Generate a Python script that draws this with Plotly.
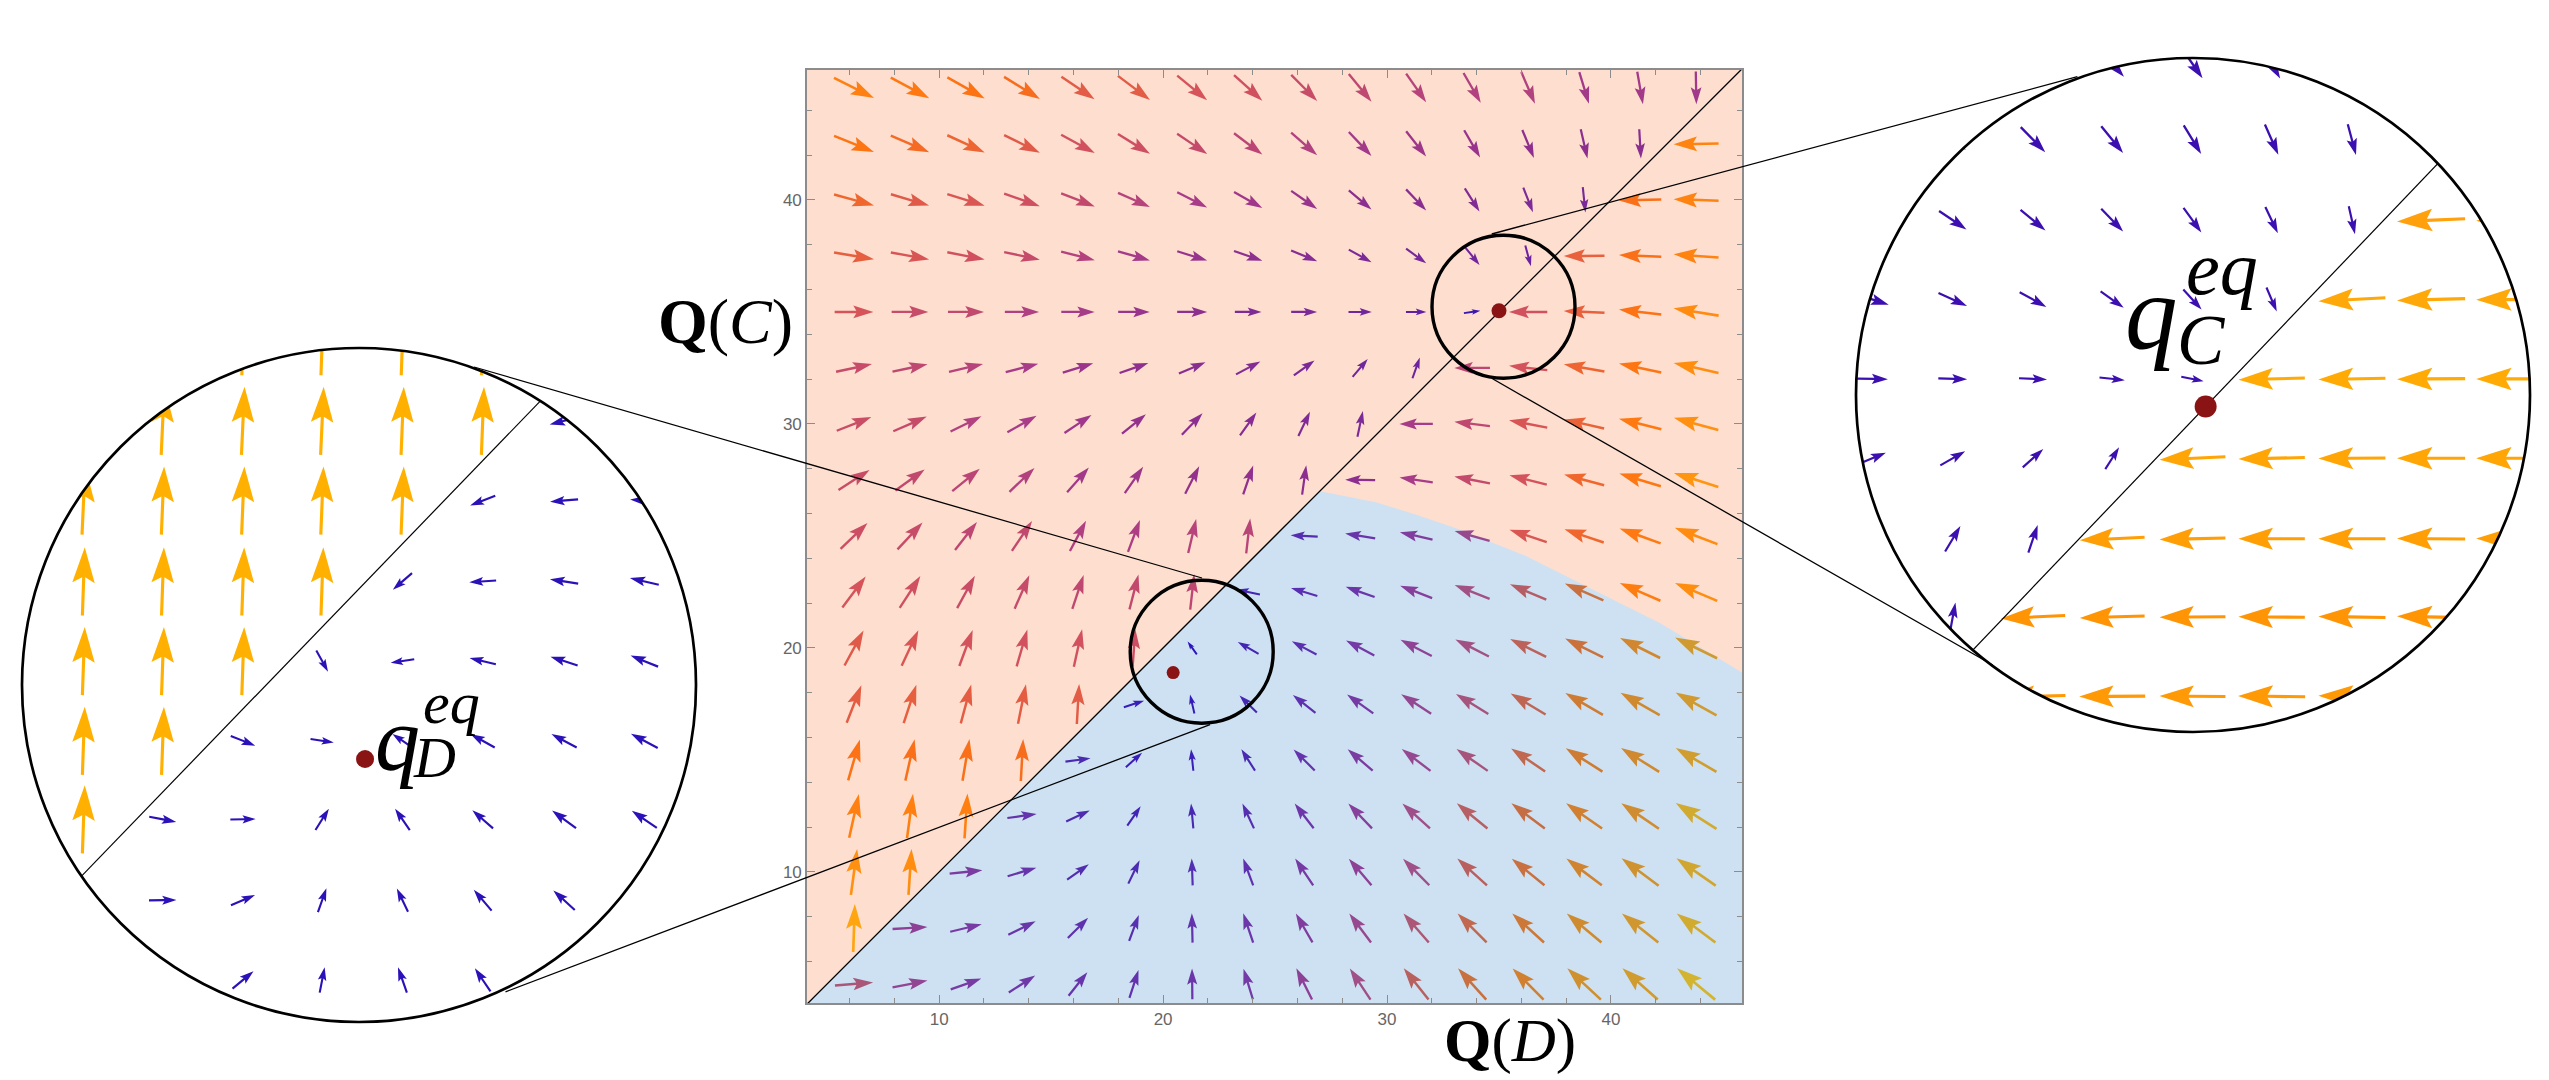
import numpy as np
import plotly.graph_objects as go

# --- Data ---
# main vector field: grid points, arrow direction (degrees) and arrow length (axis units)
main_x = [6.2, 8.7, 11.2, 13.7, 16.2, 18.7, 21.3, 23.8, 26.3, 28.8, 31.3, 33.8, 36.3, 38.8, 41.3, 43.8]
main_y = [45, 42.5, 40, 37.5, 35, 32.5, 30, 27.5, 25, 22.5, 20, 17.5, 15, 12.5, 10, 7.5, 5]
main_angle = [
    [-26.6, -28.3, -29.4, -31.7, -34.2, -36.9, -39.4, -42, -45, -50.7, -55, -60, -66.7, -73, -80, -89],
    [-21.8, -23.5, -24.9, -26.4, -28.6, -31.6, -34, -37, -41, -46.6, -51.7, -59.7, -67.4, -77, -86.7, -179],
    [-15.4, -16.5, -17.4, -19.5, -21, -24, -27, -29.5, -34.7, -40, -46.4, -57.5, -68.6, -84, -178.6, 178],
    [-9.5, -10.3, -11, -12, -14, -15.7, -17.3, -19, -22.3, -29, -36, -51, -74.7, -179.5, 177.7, 175.8],
    [0, 0, 0, 0, 0, 0, 0, 0, 0, 0, 0, 8, 180, 177.6, 173.3, 170.7],
    [12, 11.8, 13.2, 14.3, 17, 19.2, 23, 28, 36, 50, 70.5, 180, 173.5, 170, 168, 167.5],
    [21.5, 23.7, 26.3, 29.6, 33.7, 39.3, 46, 54.6, 64.4, 78, 180, 173, 169, 167.3, 166, 164.5],
    [32.8, 35.6, 39, 43.4, 48.7, 55, 63, 71, 82, 179, 172, 169, 166, 165, 163, 162.5],
    [44, 47, 52, 56, 62, 69.4, 76.8, 83.5, 177, 170.7, 167, 164.4, 161.6, 161.4, 160, 159],
    [53, 57, 61.4, 66.3, 71.6, 75.6, 83.6, 168, 163, 160.6, 158.8, 158.3, 157, 156.4, 156.5, 157],
    [61.5, 64.8, 69.7, 73.8, 77.5, 85.8, 125.5, 149.9, 152, 152, 152.6, 153, 153.4, 153.7, 153.4, 153.8],
    [68.6, 71.8, 75, 78.6, 86.7, 17.8, 103, 135.7, 142, 144.4, 146.8, 148.2, 149, 150, 150.5, 151],
    [74, 77.3, 80.5, 86.8, 7.7, 41.7, 96, 122.7, 135, 139.3, 142.8, 145, 146, 147.6, 148, 149.5],
    [77.5, 82.3, 86.2, 8, 24.9, 55.4, 95.3, 115, 127.5, 133.7, 138, 140.6, 142.9, 145, 145.8, 147.4],
    [82.2, 86.2, 6, 16.7, 35.5, 64.2, 92, 110.4, 124, 130.4, 134.6, 138, 140.8, 143, 143.4, 145],
    [88, 3.3, 13.5, 26.1, 45, 69.4, 91.4, 108.8, 120, 126.8, 131, 135, 137.6, 140, 141.4, 143],
    [4.5, 11.1, 19.7, 32.7, 51.4, 72, 90.6, 107, 116.7, 123.6, 128.4, 132, 134.8, 137, 138.5, 140.6],
]
main_length = [
    [2.0, 1.95, 1.91, 1.88, 1.79, 1.79, 1.73, 1.70, 1.64, 1.60, 1.56, 1.54, 1.54, 1.47, 1.47, 1.46],
    [1.92, 1.87, 1.84, 1.78, 1.71, 1.68, 1.62, 1.58, 1.54, 1.47, 1.44, 1.41, 1.35, 1.34, 1.31, 2.01],
    [1.85, 1.78, 1.75, 1.69, 1.61, 1.56, 1.5, 1.45, 1.41, 1.32, 1.3, 1.22, 1.18, 1.14, 1.89, 2.01],
    [1.81, 1.74, 1.70, 1.63, 1.55, 1.48, 1.40, 1.34, 1.26, 1.16, 1.11, 1.05, 0.96, 1.82, 1.89, 2.01],
    [1.73, 1.64, 1.61, 1.53, 1.49, 1.41, 1.34, 1.19, 1.16, 1.04, 0.91, 0.74, 1.71, 1.82, 1.90, 2.04],
    [1.64, 1.60, 1.56, 1.50, 1.42, 1.36, 1.29, 1.23, 1.14, 1.05, 0.98, 1.59, 1.72, 1.84, 1.93, 2.05],
    [1.66, 1.63, 1.54, 1.50, 1.45, 1.38, 1.33, 1.26, 1.2, 1.17, 1.49, 1.60, 1.74, 1.83, 1.95, 2.06],
    [1.65, 1.61, 1.58, 1.54, 1.47, 1.43, 1.38, 1.37, 1.32, 1.34, 1.50, 1.62, 1.72, 1.85, 1.94, 2.08],
    [1.67, 1.64, 1.59, 1.61, 1.53, 1.52, 1.56, 1.57, 1.21, 1.36, 1.5, 1.62, 1.75, 1.85, 1.95, 2.04],
    [1.73, 1.69, 1.65, 1.63, 1.60, 1.61, 1.59, 1.07, 1.23, 1.37, 1.53, 1.68, 1.76, 1.88, 1.98, 2.05],
    [1.78, 1.75, 1.72, 1.71, 1.71, 1.67, 0.71, 1.07, 1.25, 1.43, 1.57, 1.68, 1.8, 1.89, 2.0, 2.09],
    [1.80, 1.81, 1.80, 1.80, 1.79, 0.95, 0.87, 1.08, 1.28, 1.44, 1.6, 1.70, 1.82, 1.94, 2.01, 2.09],
    [1.90, 1.89, 1.89, 1.88, 1.13, 0.97, 0.97, 1.13, 1.33, 1.47, 1.61, 1.70, 1.83, 1.94, 2.01, 2.11],
    [2.0, 2.0, 2.0, 1.32, 1.16, 1.05, 1.11, 1.22, 1.39, 1.53, 1.66, 1.77, 1.87, 1.96, 2.03, 2.16],
    [2.06, 2.05, 1.47, 1.34, 1.19, 1.16, 1.20, 1.28, 1.44, 1.56, 1.67, 1.78, 1.88, 1.98, 2.06, 2.14],
    [2.15, 1.56, 1.45, 1.36, 1.28, 1.23, 1.31, 1.38, 1.49, 1.62, 1.72, 1.83, 1.92, 2.02, 2.08, 2.16],
    [1.71, 1.59, 1.45, 1.40, 1.34, 1.31, 1.37, 1.43, 1.56, 1.67, 1.78, 1.88, 1.96, 2.05, 2.10, 2.2],
]

# upper edge of the blue region
boundary_x = [27.0, 29.5, 31.3, 33.2, 36.2, 39.2, 42.2, 45.85]
boundary_y = [27.0, 26.5, 25.95, 25.3, 24.1, 22.6, 21.1, 18.9]

# equilibrium points
q_d = (20.45, 18.9)
q_c = (35.0, 35.0)

# left inset, around q_D
left_x = [17.89, 18.61, 19.34, 20.06, 20.79, 21.52, 22.26, 22.99]
left_y = [22.57, 21.87, 21.17, 20.46, 19.76, 19.06, 18.37, 17.66, 16.96]
left_angle = [
    [None, None, 88, 88, 88, 88, None, None],
    [None, 87.4, 87.4, 87.4, 87.7, 87.8, 194, None],
    [87.4, 87.7, 87.7, 87.7, 87.7, 201, 184.5, 176],
    [88, 88, 88, 88, 220.7, 184, 171, 167],
    [88, 88, 88, -61, 188.6, 166.7, 161.8, 158],
    [88, 88, -21.8, -8.7, 146, 151, 152, 152],
    [88, -11, 1, 58, 124.5, 138.9, 143.7, 145.8],
    [None, 1, 23, 70.6, 115.7, 130.4, 137.5, None],
    [None, None, 39.7, 79, 109.3, 124, None, None],
]
left_length = [
    [None, None, .62, .62, .62, .62, None, None],
    [None, .62, .62, .62, .62, .62, .27, None],
    [.62, .62, .62, .62, .62, .245, .256, .26],
    [.62, .62, .62, .62, .23, .245, .26, .27],
    [.62, .62, .62, .22, .217, .246, .26, .27],
    [.62, .62, .24, .214, .22, .25, .26, .276],
    [.62, .25, .23, .23, .236, .25, .27, .275],
    [None, .25, .238, .232, .234, .25, .264, None],
    [None, None, .248, .236, .245, .254, None, None],
]

# right inset, around q_C
right_x = [31.97, 32.70, 33.43, 34.15, 34.88, 35.60, 36.33, 37.05, 37.77]
right_y = [37.98, 37.32, 36.62, 35.93, 35.24, 34.55, 33.85, 33.17, 32.48]
right_angle = [
    [None, None, None, -48, -55, -60, None, None, None],
    [None, -38, -45.5, -50.8, -58.6, -66, -75, None, None],
    [None, -34, -39.4, -46, -54, -64.6, -77.5, 182.3, 181],
    [-17.7, -24.4, -28.8, -35.4, -47.7, -66.9, 183, 181.5, 180.5],
    [-1, -1.8, -2.7, -6, -11.3, 181.5, 181, 180.4, 180],
    [22.6, 29.7, 41.7, 57.7, 182.7, 181.2, 180.4, 180, 180],
    [None, 59, 71.3, 182.8, 181.2, 180, 180, 179.6, 179.5],
    [None, 79.5, 182.8, 181.6, 180.4, 179.6, 179.2, 178.9, None],
    [None, None, 181.6, 180.4, 179.6, 179.2, 179, None, None],
]
right_length = [
    [None, None, None, .32, .32, .31, None, None, None],
    [None, .30, .318, .314, .304, .30, .289, None, None],
    [None, .30, .294, .287, .276, .265, .261, .62, .62],
    [.31, .285, .277, .258, .247, .238, .61, .62, .62],
    [.28, .263, .255, .232, .207, .604, .61, .62, .62],
    [.263, .26, .25, .235, .60, .604, .61, .62, .62],
    [None, .27, .265, .59, .60, .604, .61, .62, .62],
    [None, .268, .585, .59, .60, .604, .61, .62, None],
    [None, None, .59, .60, .60, .61, .61, None, None],
]
right_orange = ["#FFA90A", "#FFA90A", "#FFA00C", "#FFA80A", "#FFAA05", "#FFA505", "#FF9F05", "#FF9505", "#FF9905"]

# --- Styling ---
W, H = 2549, 1080
PINK_BG = "#fddecf"
BLUE_BG = "#cde1f2"
DOT = "#8a1414"
AXIS_GRAY = "#8c8c8c"
LEFT_GOLD = "#FFB000"
LEFT_BLUE = "#2a12b8"
RIGHT_BLUE = "#3c10b0"

# arrow colour against length, one scale per background
PINK_LEN = [0.74, 0.95, 1.15, 1.35, 1.5, 1.62, 1.72, 1.82, 1.9, 2.0, 2.06, 2.15]
PINK_RGB = ["#3c18b0", "#6a22a0", "#7a2a98", "#8e2f8e", "#a83c88", "#c44a6c",
            "#d4525c", "#e8603c", "#fc7214", "#ff8010", "#ff9010", "#ffa510"]
BLUE_LEN = [0.7, 0.97, 1.13, 1.25, 1.4, 1.55, 1.67, 1.78, 1.88, 1.96, 2.05, 2.2]
BLUE_RGB = ["#2a14c0", "#3a20b8", "#4a2ab0", "#5a30b0", "#6e38a8", "#8a4098",
            "#a05088", "#b86060", "#c87040", "#d08030", "#cf9030", "#d2b430"]

# axes boxes in page pixels
MAIN_BOX = (807, 1742, 70, 1003)
LEFT_BOX = (22, 696, 348, 1022)
RIGHT_BOX = (1856, 2530, 58, 732)
MAIN_SCALE = (22.4, 22.4)
LEFT_SCALE = (110, 114)
RIGHT_SCALE = (110, 115)


def px(x):
    return x / W


def py(y):
    return 1 - y / H


def scale_color(length, lens, hexes):
    """Interpolates the colour scale at one arrow length."""
    rgb = np.array([[int(h[i:i + 2], 16) for i in (1, 3, 5)] for h in hexes], dtype=float)
    parts = [int(round(np.interp(length, lens, rgb[:, k]))) for k in range(3)]
    return "#%02x%02x%02x" % tuple(parts)


def arrow_polygon(x, y, angle, length, scale):
    """Barbed arrow centred on its grid point, returned in axis units."""
    sx, sy = scale
    a = np.radians(angle)
    fx, fy = np.cos(a), np.sin(a)
    nx, ny = -fy, fx
    L = length * sx
    shaft = (1.5 + 0.024 * L) / 2
    head = 0.165 * L
    # (distance along the arrow, distance across it), in pixels
    outline = [(-L / 2, shaft), (L * 0.06, shaft), (L * -0.02, head), (L / 2, 0),
               (L * -0.02, -head), (L * 0.06, -shaft), (-L / 2, -shaft), (-L / 2, shaft)]
    xs = [x + (t * fx + w * nx) / sx for t, w in outline]
    ys = [y + (t * fy + w * ny) / sy for t, w in outline]
    return xs, ys


def add_arrow_group(fig, groups, axes):
    """One filled trace per colour, polygons separated with None."""
    for color, polygons in groups.items():
        xs, ys = [], []
        for px_, py_ in polygons:
            xs += px_ + [None]
            ys += py_ + [None]
        fig.add_trace(go.Scatter(x=xs, y=ys, mode="lines", fill="toself", fillcolor=color,
                                 line=dict(width=0, color=color), hoverinfo="skip",
                                 showlegend=False, xaxis=axes[0], yaxis=axes[1]))


def collect_main():
    groups = {}
    for r, y in enumerate(main_y):
        for c, x in enumerate(main_x):
            length = main_length[r][c]
            in_blue = x > y and y < np.interp(x, boundary_x, boundary_y)
            if in_blue:
                color = scale_color(length, BLUE_LEN, BLUE_RGB)
            else:
                color = scale_color(length, PINK_LEN, PINK_RGB)
            groups.setdefault(color, []).append(arrow_polygon(x, y, main_angle[r][c], length, MAIN_SCALE))
    return groups


def collect_left():
    groups = {}
    for r, y in enumerate(left_y):
        for c, x in enumerate(left_x):
            if left_angle[r][c] is None:
                continue
            color = LEFT_GOLD if x < y else LEFT_BLUE
            groups.setdefault(color, []).append(arrow_polygon(x, y, left_angle[r][c], left_length[r][c], LEFT_SCALE))
    return groups


def collect_right():
    groups = {}
    for r, y in enumerate(right_y):
        for c, x in enumerate(right_x):
            if right_angle[r][c] is None:
                continue
            color = right_orange[r] if x > y else RIGHT_BLUE
            groups.setdefault(color, []).append(arrow_polygon(x, y, right_angle[r][c], right_length[r][c], RIGHT_SCALE))
    return groups


def add_inset_mask(fig, xrange, yrange, axes):
    """White keyhole polygon that hides whatever lies outside the inset circle."""
    # the square runs counter-clockwise, so the circle has to run the other way
    t = np.linspace(2 * np.pi, 0, 241)
    cx, cy = sum(xrange) / 2, sum(yrange) / 2
    rx, ry = (xrange[1] - xrange[0]) / 2, (yrange[1] - yrange[0]) / 2
    xs = [xrange[1], xrange[1], xrange[0], xrange[0], xrange[1], xrange[1]] + list(cx + rx * np.cos(t)) + [xrange[1]]
    ys = [cy, yrange[1], yrange[1], yrange[0], yrange[0], cy] + list(cy + ry * np.sin(t)) + [cy]
    fig.add_trace(go.Scatter(x=xs, y=ys, mode="lines", fill="toself", fillcolor="white",
                             line=dict(width=0), hoverinfo="skip", showlegend=False,
                             xaxis=axes[0], yaxis=axes[1]))


def add_diagonal(fig, lo, hi, axes, width):
    fig.add_trace(go.Scatter(x=[lo, hi], y=[lo, hi], mode="lines", line=dict(color="black", width=width),
                             hoverinfo="skip", showlegend=False, xaxis=axes[0], yaxis=axes[1]))


def add_dot(fig, q, size, axes):
    fig.add_trace(go.Scatter(x=[q[0]], y=[q[1]], mode="markers", marker=dict(color=DOT, size=size),
                             hoverinfo="skip", showlegend=False, xaxis=axes[0], yaxis=axes[1]))


def page_line(x0, y0, x1, y1):
    return dict(type="line", xref="paper", yref="paper", x0=px(x0), y0=py(y0), x1=px(x1), y1=py(y1),
                line=dict(color="black", width=1.3), layer="above")


def page_circle(cx, cy, r, width):
    return dict(type="circle", xref="paper", yref="paper", x0=px(cx - r), x1=px(cx + r),
                y0=py(cy + r), y1=py(cy - r), line=dict(color="black", width=width), layer="above")


def page_text(text, x, y, size, family="Liberation Serif"):
    return dict(text=text, xref="paper", yref="paper", x=px(x), y=py(y), showarrow=False,
                xanchor="center", yanchor="middle", font=dict(family=family, size=size, color="black"))


def main():
    fig = go.Figure()

    # main panel
    main_xrange = [4.1, 45.85]
    main_yrange = [4.15, 45.8]
    blue_x = [main_xrange[0]] + boundary_x + [main_xrange[1], main_xrange[0]]
    blue_y = [main_xrange[0]] + boundary_y + [main_yrange[0], main_yrange[0]]
    fig.add_trace(go.Scatter(x=blue_x, y=blue_y, mode="lines", fill="toself", fillcolor=BLUE_BG,
                             line=dict(width=0), hoverinfo="skip", showlegend=False))
    add_arrow_group(fig, collect_main(), ("x", "y"))
    add_diagonal(fig, 4.1, 45.9, ("x", "y"), 1.3)
    add_dot(fig, (35.0, 35.05), 15, ("x", "y"))
    add_dot(fig, q_d, 13, ("x", "y"))

    # left inset
    left_xrange = [17.33, 23.46]
    left_yrange = [16.59, 22.51]
    add_arrow_group(fig, collect_left(), ("x2", "y2"))
    add_diagonal(fig, 17, 24, ("x2", "y2"), 1.2)
    add_dot(fig, q_d, 18, ("x2", "y2"))
    add_inset_mask(fig, left_xrange, left_yrange, ("x2", "y2"))

    # right inset
    right_xrange = [31.82, 37.95]
    right_yrange = [32.17, 38.03]
    add_arrow_group(fig, collect_right(), ("x3", "y3"))
    add_diagonal(fig, 31, 39, ("x3", "y3"), 1.2)
    add_dot(fig, q_c, 22, ("x3", "y3"))
    add_inset_mask(fig, right_xrange, right_yrange, ("x3", "y3"))

    tick_style = dict(
        tickvals=[10, 20, 30, 40], ticks="inside", ticklen=8, tickwidth=1.3, tickcolor=AXIS_GRAY,
        showline=True, linecolor=AXIS_GRAY, linewidth=1.6, mirror="ticks",
        showgrid=False, zeroline=False, tickfont=dict(family="Liberation Sans", size=17, color="#666666"),
        minor=dict(dtick=2, tick0=0, ticks="inside", ticklen=5, tickwidth=1, tickcolor=AXIS_GRAY, showgrid=False),
    )
    hidden = dict(visible=False, showgrid=False, zeroline=False)

    shapes = [
        page_circle(1201.7, 651.7, 71.5, 3.4),
        page_circle(1503.5, 306.7, 71.5, 3.4),
        page_circle(359, 685, 337, 2.7),
        page_circle(2193, 395, 337, 2.7),
        page_line(474, 367, 1202, 578),
        page_line(505.5, 991.8, 1210, 724.6),
        page_line(2077.4, 76.7, 1491.7, 234),
        page_line(1992.7, 665, 1491.7, 378.3),
    ]
    annotations = [
        page_text("<b>Q</b>(<i>C</i>)", 725, 321, 64),
        page_text("<b>Q</b>(<i>D</i>)", 1510, 1041, 61),
        page_text("<i>q</i>", 397.5, 739, 90),
        page_text("<i>eq</i>", 451, 703, 60),
        page_text("<i>D</i>", 435, 757, 58),
        page_text("<i>q</i>", 2151, 313, 105),
        page_text("<i>eq</i>", 2222, 268, 76),
        page_text("<i>C</i>", 2201, 340, 71),
    ]

    fig.update_layout(
        width=W, height=H, margin=dict(l=0, r=0, t=0, b=0), showlegend=False,
        paper_bgcolor="white", plot_bgcolor="white",
        xaxis=dict(domain=[px(MAIN_BOX[0]), px(MAIN_BOX[1])], range=main_xrange, anchor="y", **tick_style),
        yaxis=dict(domain=[py(MAIN_BOX[3]), py(MAIN_BOX[2])], range=main_yrange, anchor="x", **tick_style),
        xaxis2=dict(domain=[px(LEFT_BOX[0]), px(LEFT_BOX[1])], range=left_xrange, anchor="y2", **hidden),
        yaxis2=dict(domain=[py(LEFT_BOX[3]), py(LEFT_BOX[2])], range=left_yrange, anchor="x2", **hidden),
        xaxis3=dict(domain=[px(RIGHT_BOX[0]), px(RIGHT_BOX[1])], range=right_xrange, anchor="y3", **hidden),
        yaxis3=dict(domain=[py(RIGHT_BOX[3]), py(RIGHT_BOX[2])], range=right_yrange, anchor="x3", **hidden),
        shapes=shapes, annotations=annotations,
    )
    # main panel background is the pink region
    fig.add_shape(type="rect", xref="x domain", yref="y domain", x0=0, x1=1, y0=0, y1=1,
                  fillcolor=PINK_BG, line=dict(width=0), layer="below")

    fig.write_html("out.html", config=dict(displayModeBar=False),
                   post_script='document.body.style.margin="0";document.body.style.overflow="hidden";')


if __name__ == "__main__":
    main()
